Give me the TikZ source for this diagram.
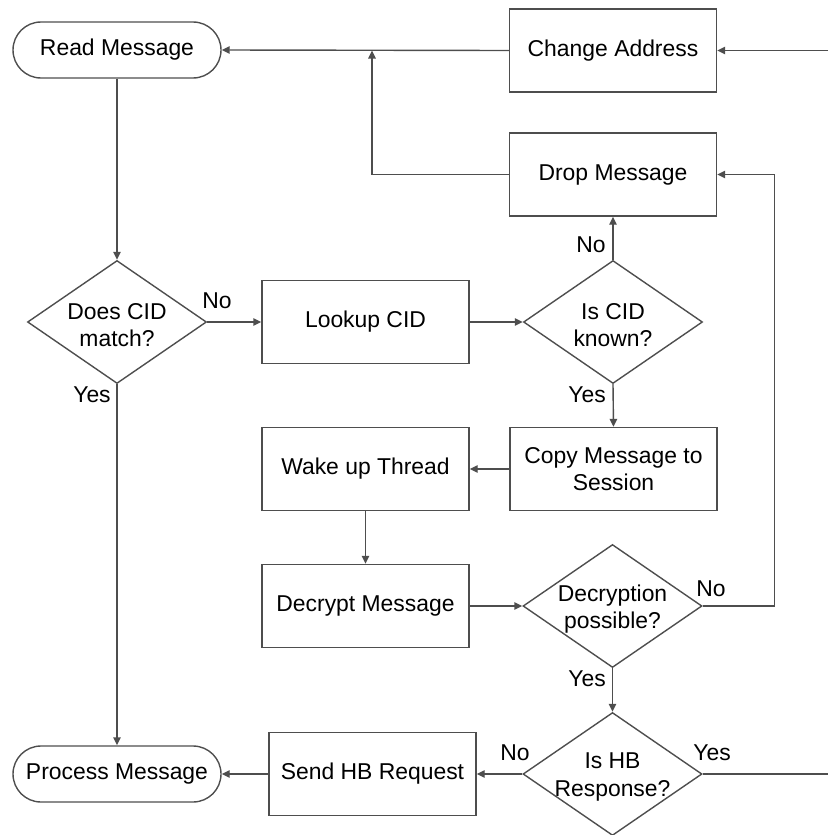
\documentclass[tikz,border=0pt]{standalone}
\usepackage{fontspec}
\setmainfont{Liberation Sans}
\usetikzlibrary{arrows.meta,shapes.geometric}
\definecolor{linegray}{RGB}{78,78,78}
\begin{document}
\begin{tikzpicture}[x=1pt,y=-1pt,
  every node/.style={font=\fontsize{22.9}{27.5}\selectfont, text=black},
  box/.style={draw=linegray, line width=1.4pt, rectangle, minimum width=207pt, minimum height=83pt, inner sep=0pt, align=center},
  term/.style={draw=linegray, line width=1.4pt, rectangle, rounded corners=28pt, minimum width=208pt, minimum height=56pt, inner sep=0pt},
  decision/.style={draw=linegray, line width=1.4pt, diamond, minimum width=179pt, minimum height=123pt, inner sep=0pt},
  dtext/.style={align=center, inner sep=0pt, yshift=-3pt},
  flow/.style={draw=linegray, line width=1.4pt, -{Triangle[length=8pt,width=7.5pt]}},
  plain/.style={draw=linegray, line width=1.4pt},
  tag/.style={inner sep=0pt}
]
\useasboundingbox (0,0) rectangle (828,835);

% terminals
\node[term] (rm) at (117,50) {Read Message};
\node[term] (pm) at (117,774) {Process Message};

% process boxes
\node[box] (ca) at (613,50.5) {Change Address};
\node[box] (drop) at (613,174.5) {Drop Message};
\node[box] (lookup) at (365.5,322) {Lookup CID};
\node[box] (copy) at (613.5,469) {Copy Message to\\Session};
\node[box] (wake) at (365.5,469) {Wake up Thread};
\node[box] (decrypt) at (365.5,606) {Decrypt Message};
\node[box] (send) at (372.5,774) {Send HB Request};

% decisions
\node[decision, label={[dtext]center:Does CID\\match?}] (cidmatch) at (117,322) {};
\node[decision, label={[dtext]center:Is CID\\known?}] (cidknown) at (613,322) {};
\node[decision, label={[dtext]center:Decryption\\possible?}] (decok) at (612.5,606) {};
\node[decision, label={[dtext]center:Is HB\\Response?}] (hbresp) at (612.5,774) {};

% free ends and junctions
\coordinate (inAddr) at (828,50.5);
\coordinate (outHB) at (828,774);
\coordinate (join) at (372,50.5);

% connectors
\draw[flow] (inAddr) -- (ca.east);
\draw[flow] (ca.west) -- (rm.east);
\draw[flow] (drop.west) -| (join);
\draw[flow] (rm.south) -- (cidmatch.north);
\draw[flow] (cidmatch.east) -- (lookup.west);
\draw[flow] (lookup.east) -- (cidknown.west);
\draw[flow] (cidknown.north) -- (drop.south);
\draw[flow] (cidknown.south) -- (copy.north);
\draw[flow] (copy.west) -- (wake.east);
\draw[flow] (wake.south) -- (decrypt.north);
\draw[flow] (decrypt.east) -- (decok.west);
\draw[flow] (decok.east) -- ++(72,0) |- (drop.east);
\draw[flow] (decok.south) -- (hbresp.north);
\draw[flow] (hbresp.west) -- (send.east);
\draw[flow] (send.west) -- (pm.east);
\draw[flow] (cidmatch.south) -- (pm.north);
\draw[plain] (hbresp.east) -- (outHB);

% branch labels
\node[tag] (l1) at (217,301) {No};
\node[tag] (l2) at (92,395) {Yes};
\node[tag] (l3) at (591,245) {No};
\node[tag] (l4) at (587,395) {Yes};
\node[tag] (l5) at (711,589) {No};
\node[tag] (l6) at (587,679) {Yes};
\node[tag] (l7) at (515,753) {No};
\node[tag] (l8) at (712,753) {Yes};
\end{tikzpicture}
\end{document}
